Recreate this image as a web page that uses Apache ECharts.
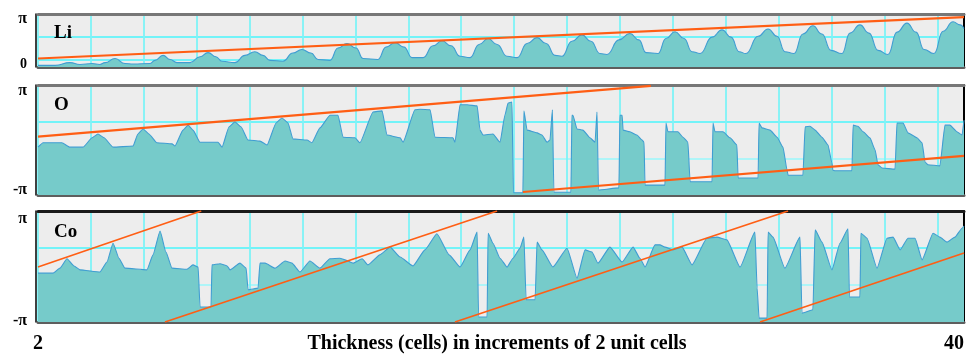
<!DOCTYPE html>
<html><head><meta charset="utf-8">
<script src="https://cdn.jsdelivr.net/npm/echarts@6/dist/echarts.min.js"></script>
<style>html,body{margin:0;padding:0;background:#fff}#c{width:966px;height:354px}</style>
</head><body><div id="c"></div>
<script>
// ---- data (phase in units of pi, x = thickness in cells) ----
const panelNames = ['Li', 'O', 'Co'];
const xTickLabels = ['2', '40'];
const xTitle = 'Thickness (cells) in increments of 2 unit cells';
const liTickLabels = ['0', 'π'];
const phaseTickLabels = ['-π', 'π'];

const liPhase = [[2.00,-0.13],[2.70,-0.13],[3.31,-0.07],[3.72,-0.11],[4.22,-0.09],[4.54,-0.11],[4.75,-0.07],[5.16,0.02],[5.57,-0.09],[5.90,-0.10],[6.60,-0.09],[6.80,-0.02],[7.13,0.09],[7.42,0],[7.70,-0.07],[8.24,-0.07],[8.65,0.06],[8.98,0.15],[9.30,0.06],[9.55,-0.04],[10.08,-0.07],[10.49,0.09],[10.90,0.17],[11.23,0.09],[11.52,-0.02],[12.05,-0.04],[12.46,0.14],[12.83,0.22],[13.20,0.14],[13.49,0],[13.98,-0.02],[14.31,0.25],[14.68,0.35],[15.05,0.25],[15.34,0.02],[15.95,0],[16.28,0.27],[16.65,0.37],[17.02,0.27],[17.35,0.04],[17.80,0.04],[18.21,0.30],[18.58,0.41],[18.95,0.30],[19.32,0.07],[19.73,0.04],[20.10,0.33],[20.47,0.46],[20.84,0.33],[21.25,0.07],[21.66,0.04],[22.07,0.35],[22.48,0.48],[22.85,0.35],[23.22,0.09],[23.50,0.07],[23.91,0.40],[24.32,0.54],[24.69,0.40],[25.06,0.13],[25.35,0.11],[25.84,0.43],[26.29,0.57],[26.66,0.43],[26.95,0.15],[27.44,0.13],[27.77,0.46],[28.14,0.61],[28.51,0.46],[28.84,0.17],[29.17,0.13],[29.66,0.49],[30.07,0.65],[30.44,0.49],[30.77,0.17],[31.05,0.13],[31.55,0.51],[31.96,0.67],[32.33,0.51],[32.65,0.17],[33.02,0.13],[33.39,0.56],[33.80,0.74],[34.17,0.56],[34.54,0.20],[34.99,0.13],[35.32,0.58],[35.73,0.76],[36.10,0.58],[36.47,0.20],[36.88,0.11],[37.25,0.60],[37.66,0.80],[38.03,0.60],[38.36,0.22],[38.77,0.13],[39.14,0.62],[39.55,0.83],[39.84,0.76],[40.00,0.68]];

const oPhase = [[2.00,-0.13],[2.21,-0.05],[2.98,-0.05],[3.31,-0.13],[3.85,-0.13],[4.22,0.04],[4.46,0.11],[4.71,0.04],[5.08,-0.13],[5.90,-0.11],[6.10,0.11],[6.31,0.20],[6.55,0.11],[6.88,-0.05],[7.50,-0.07],[7.62,-0.11],[7.95,0.18],[8.16,0.27],[8.36,0.18],[8.65,-0.04],[9.39,-0.04],[9.55,-0.13],[9.84,0.24],[10.08,0.33],[10.33,0.24],[10.62,0],[11.11,-0.02],[11.40,-0.09],[11.77,0.31],[12.01,0.40],[12.26,0.31],[12.46,0.02],[13.04,0],[13.24,-0.05],[13.57,0.22],[13.98,0.45],[14.31,0.45],[14.52,0.05],[15.01,0.04],[15.21,-0.05],[15.75,0.51],[16.12,0.53],[16.32,0.09],[16.86,0.04],[16.98,-0.04],[17.47,0.55],[17.68,0.56],[18.09,0.55],[18.29,0.05],[19.03,0.04],[19.11,-0.04],[19.32,0.64],[19.61,0.64],[20.02,0.62],[20.14,0.18],[20.26,0.09],[20.67,0.11],[20.96,-0.04],[21.16,0.45],[21.29,0.67],[21.45,0.69],[21.51,-0.96],[21.90,-0.96],[21.94,0.53],[22.07,0.18],[22.48,0.13],[22.68,0.09],[22.89,-0.04],[23.01,0],[23.11,0.55],[23.17,-0.95],[23.87,-0.95],[23.91,0.45],[23.95,0.45],[24.12,0.20],[24.36,0.18],[24.65,0.04],[24.86,-0.04],[24.94,0.51],[25.00,-0.91],[25.84,-0.87],[25.88,0.45],[25.97,0.45],[26.01,0.18],[26.29,0.15],[26.58,0.09],[26.79,0],[26.87,-0.04],[26.91,-0.82],[27.73,-0.82],[27.77,0.31],[27.85,0.15],[28.26,0.15],[28.47,0.05],[28.67,-0.04],[28.76,-0.76],[29.66,-0.76],[29.70,0.31],[29.78,0.15],[30.11,0.15],[30.40,0.04],[30.68,-0.09],[30.73,-0.69],[31.55,-0.69],[31.59,0.31],[31.71,0.22],[32.04,0.18],[32.33,0.05],[32.57,-0.13],[32.74,-0.55],[32.78,-0.64],[33.39,-0.64],[33.48,0.24],[33.68,0.25],[33.89,0.18],[34.17,0.05],[34.42,-0.09],[34.58,-0.42],[34.62,-0.55],[34.71,-0.56],[35.40,-0.56],[35.45,0.27],[35.65,0.25],[35.86,0.15],[36.14,0.04],[36.35,-0.18],[36.47,-0.45],[36.64,-0.51],[37.17,-0.53],[37.25,0.31],[37.50,0.31],[37.70,0.13],[38.07,0.04],[38.28,-0.05],[38.40,-0.40],[38.52,-0.45],[39.01,-0.47],[39.22,0.27],[39.42,0.27],[39.71,0.15],[39.92,0.09],[40.00,0.36]];

const coPhase = [[2.00,-0.12],[2.62,-0.12],[2.90,-0.03],[3.19,0.14],[3.48,0.01],[3.72,-0.06],[4.54,-0.10],[4.83,0.08],[5.08,0.42],[5.32,0.15],[5.57,-0.03],[6.47,-0.06],[6.72,0.21],[7.01,0.64],[7.25,0.26],[7.50,-0.03],[8.11,-0.05],[8.36,0.03],[8.57,-0.01],[8.65,-0.73],[9.10,-0.73],[9.14,0.03],[9.47,0.05],[9.76,0.01],[9.88,-0.06],[10.29,0.06],[10.54,-0.03],[10.62,-0.42],[11.03,-0.39],[11.11,0.06],[11.32,0.06],[11.73,-0.03],[12.14,0.10],[12.42,0.06],[12.75,-0.10],[13.16,0.10],[13.57,-0.03],[13.98,0.14],[14.39,0.15],[14.60,0.12],[14.93,0.06],[15.30,0.14],[15.54,0.03],[16.03,0.21],[16.45,0.35],[16.86,0.17],[17.39,0.01],[17.88,0.30],[18.37,0.59],[18.87,0.21],[19.32,-0.01],[19.73,0.30],[20.02,0.62],[20.08,-0.91],[20.43,-0.91],[20.47,0.60],[20.67,0.42],[20.96,0.15],[21.25,-0.01],[21.49,0.15],[21.78,0.33],[21.94,0.53],[22.03,-0.60],[22.40,-0.60],[22.48,0.44],[22.68,0.30],[23.13,-0.01],[23.71,0.33],[24.12,-0.21],[24.45,0.30],[24.73,0.26],[24.98,0.06],[25.47,0.35],[25.97,0.08],[26.42,0.35],[26.70,0.15],[26.91,-0.01],[27.32,0.39],[27.52,0.39],[27.73,0.35],[28.06,0.30],[28.43,0.35],[28.84,0.03],[29.45,0.51],[29.86,0.53],[30.27,0.48],[30.81,-0.01],[31.42,0.62],[31.51,-0.39],[31.59,-0.93],[31.92,-0.93],[31.96,0.62],[32.16,0.53],[32.65,-0.03],[33.27,0.53],[33.35,-0.84],[33.80,-0.78],[33.89,0.66],[34.17,0.44],[34.58,-0.06],[34.91,0.42],[35.24,0.68],[35.30,-0.55],[35.73,-0.55],[35.77,0.60],[36.02,0.51],[36.43,-0.03],[36.84,0.51],[37.09,0.53],[37.38,0.30],[37.70,0.51],[37.99,0.51],[38.28,0.12],[38.73,0.60],[39.01,0.53],[39.30,0.44],[39.63,0.53],[39.92,0.69],[40.00,0.73]];

const liRef = [[2, 0.02], [40, 0.93]];
const oRefUpper = [[2, 0.06], [27.15, 0.985]];
const oRefLower = [[21.9, -0.945], [40, -0.29]];
const coRef1 = [[2, -0.01], [8.7, 1]];
const coRef2 = [[7.21, -1], [20.84, 1]];
const coRef3 = [[19.11, -1], [32.78, 1]];
const coRef4 = [[31.63, -1], [40, 0.243]];

// ---- chart ----
const FONT = '"Liberation Serif", "DejaVu Serif", serif';
const T = 'rgba(0,0,0,0)';
const CB = '#72f3f8';   // bright cyan
const CL = '#aef5f8';   // light cyan
const lblBase = {fontFamily: FONT, fontWeight: 'bold', fontSize: 14, color: '#000'};
const piBase = {fontFamily: FONT, fontWeight: 'bold', fontSize: 16, color: '#000'};
const near = (a, b) => Math.abs(a - b) < 1e-6;
const panels = [
  {top: 14, height: 53, min: -1/6, max: 1, step: 1/6, lineColors: [T, CB, T, T, CB, T, T, T], topColor: '#777777',
   padTop: 10, padBot: 0, padMid: 10,
   fmt: v => near(v, 0) ? '{m|' + liTickLabels[0] + '}' : (near(v, 1) ? '{t|' + liTickLabels[1] + '}' : '')},
  {top: 85, height: 110, min: -1, max: 1, step: 1/3, lineColors: [T, T, CL, T, CB, T, T], topColor: '#777777',
   padTop: 12, padBot: 10, padMid: 0,
   fmt: v => near(v, -1) ? '{b|' + phaseTickLabels[0] + '}' : (near(v, 1) ? '{t|' + phaseTickLabels[1] + '}' : '')},
  {top: 211, height: 111, min: -1, max: 1, step: 1/3, lineColors: [T, T, CL, T, CB, T, T], topColor: '#1a1a1a',
   padTop: 16, padBot: 3, padMid: 0,
   fmt: v => near(v, -1) ? '{b|' + phaseTickLabels[0] + '}' : (near(v, 1) ? '{t|' + phaseTickLabels[1] + '}' : '')}
];

const grid = [], xAxis = [], yAxis = [], title = [];
panels.forEach((p, i) => {
  grid.push({left: 38, right: 2, top: p.top, height: p.height, show: true, backgroundColor: '#ededed',
    borderWidth: 0, containLabel: false, outerBoundsMode: 'none'});
  const last = i === 2;
  xAxis.push({
    type: 'value', gridIndex: i, min: 2, max: 40, interval: 2, position: 'bottom',
    axisLine: {show: true, onZero: false, lineStyle: {color: '#5e5e5e', width: 3}},
    axisTick: {show: false}, splitLine: {show: false},
    axisLabel: {show: last, margin: 12, fontFamily: FONT, fontWeight: 'bold', fontSize: 20, color: '#000',
      alignMaxLabel: 'right',
      formatter: v => v === 2 ? xTickLabels[0] : (v === 40 ? xTickLabels[1] : '')},
    name: last ? xTitle : '', nameLocation: 'middle', nameGap: 12, nameMoveOverlap: false,
    nameTextStyle: {fontFamily: FONT, fontWeight: 'bold', fontSize: 20, color: '#000', verticalAlign: 'top',
      padding: [0, 8, 0, 0]}
  });
  xAxis.push({
    type: 'value', gridIndex: i, min: 0, max: 17.505, interval: 1, position: 'top',
    axisLine: {show: true, onZero: false, lineStyle: {color: p.topColor, width: 3}},
    axisTick: {show: false}, axisLabel: {show: false},
    splitLine: {show: true, lineStyle: {color: '#7ef3f7', width: 1.8}}
  });
  yAxis.push({
    type: 'value', gridIndex: i, min: p.min, max: p.max, interval: p.step, position: 'left', offset: 2,
    axisLine: {show: true, onZero: false, lineStyle: {color: '#000', width: 1.5}},
    axisTick: {show: false},
    axisLabel: Object.assign({margin: 9, formatter: p.fmt, rich: {
      t: Object.assign({padding: [p.padTop, 0, 0, 0]}, piBase),
      b: Object.assign({padding: [0, 0, p.padBot, 0]}, piBase),
      m: Object.assign({padding: [p.padMid, 0, 0, 0]}, lblBase)
    }}, lblBase),
    splitLine: {show: true, lineStyle: {color: p.lineColors, width: 1.8}}
  });
  yAxis.push({
    type: 'value', gridIndex: i, min: p.min, max: p.max, position: 'right',
    axisLine: {show: true, onZero: false, lineStyle: {color: '#000', width: 2}},
    axisTick: {show: false}, axisLabel: {show: false}, splitLine: {show: false}
  });
  title.push({text: panelNames[i], left: 49, top: p.top + [5, 6, 7][i],
    textStyle: {fontFamily: FONT, fontWeight: 'bold', fontSize: 19, color: '#000'}});
});

function area(i, data, smooth) {
  return {type: 'line', xAxisIndex: i * 2, yAxisIndex: i * 2, data: data, symbol: 'none', smooth: smooth,
    smoothMonotone: 'x', z: 2,
    lineStyle: {color: '#409dd2', width: 1.1}, areaStyle: {color: '#76cbca', opacity: 1, origin: 'start'}};
}
function ref(i, data, w) {
  return {type: 'line', xAxisIndex: i * 2, yAxisIndex: i * 2, data: data, symbol: 'none', z: 3,
    lineStyle: {color: '#ff5e14', width: w}};
}

const chart = echarts.init(document.getElementById('c'), null, {renderer: 'canvas'});
chart.setOption({
  animation: false,
  title: title, grid: grid, xAxis: xAxis, yAxis: yAxis,
  series: [
    area(0, liPhase, 0.5), ref(0, liRef, 2.2),
    area(1, oPhase, 0.15), ref(1, oRefUpper, 2.2), ref(1, oRefLower, 2.2),
    area(2, coPhase, 0.15), ref(2, coRef1, 1.7), ref(2, coRef2, 1.7), ref(2, coRef3, 1.7), ref(2, coRef4, 1.7)
  ]
});
</script></body></html>
